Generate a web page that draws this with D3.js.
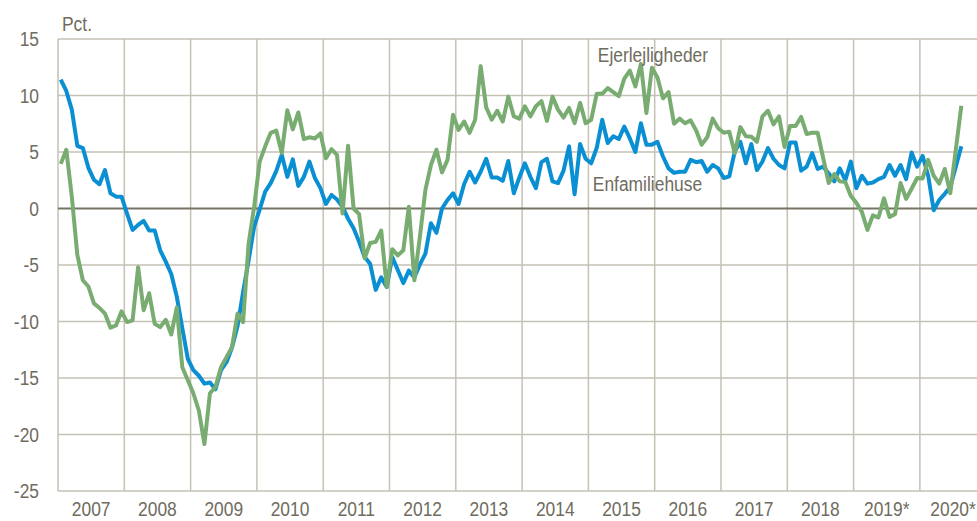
<!DOCTYPE html>
<html>
<head>
<meta charset="utf-8">
<script src="https://cdn.jsdelivr.net/npm/d3@7"></script>
<style>
  html, body { margin: 0; padding: 0; background: #ffffff; }
  svg { display: block; }
  text { font-family: "Liberation Sans Narrow", "Arial Narrow", "Liberation Sans", Arial, sans-serif; fill: #6f6c5e; }
</style>
</head>
<body>
<div id="chart"></div>
<script>
// Monthly price growth, pct. (Jan 2007 - Aug 2020)
var years = ["2007", "2008", "2009", "2010", "2011", "2012", "2013", "2014",
             "2015", "2016", "2017", "2018", "2019*", "2020*"];
var y_ticks = [15, 10, 5, 0, -5, -10, -15, -20, -25];

var enfamiliehuse = [
    11.4, 10.4, 8.75, 5.55, 5.35, 3.6, 2.55, 2.15, 3.4, 1.35, 1.05, 1.05,
    -0.45, -1.9, -1.45, -1.1, -1.95, -1.95, -3.7, -4.7, -5.8, -7.8, -10.6, -13.3,
    -14.3, -14.8, -15.5, -15.4, -16.0, -14.3, -13.6, -12.3, -10.4, -7.4, -4.6, -1.6,
    -0.1, 1.5, 2.25, 3.3, 4.75, 2.8, 4.35, 2.0, 2.8, 4.15, 2.7, 1.8,
    0.4, 1.2, 0.8, 0.15, -0.9, -1.75, -2.95, -4.3, -4.9, -7.2, -6.1, -6.95,
    -4.3, -5.45, -6.6, -5.5, -6.1, -4.95, -4.0, -1.3, -2.15, 0.0, 0.75, 1.35,
    0.4, 2.15, 3.25, 2.3, 3.25, 4.4, 2.75, 2.75, 2.45, 4.2, 1.35, 2.75,
    4.0, 2.8, 1.8, 4.1, 4.4, 2.4, 2.25, 3.35, 5.5, 1.25, 5.7, 4.4,
    4.0, 5.35, 7.85, 5.8, 6.4, 6.15, 7.25, 6.2, 5.0, 7.55, 5.65, 5.65,
    5.9, 4.6, 3.55, 3.15, 3.25, 3.25, 4.3, 4.1, 4.2, 3.25, 3.85, 3.55,
    2.7, 2.85, 5.05, 5.9, 4.0, 5.7, 3.4, 4.15, 5.35, 4.4, 3.85, 3.55,
    5.85, 5.85, 3.35, 3.7, 4.9, 3.5, 3.7, 3.1, 2.4, 3.55, 2.5, 4.15,
    1.8, 2.9, 2.2, 2.3, 2.6, 2.8, 3.85, 2.9, 3.85, 2.6, 4.95, 3.7,
    4.65, 2.9, -0.15, 0.75, 1.3, 1.9, 3.7, 5.5
];

var ejerlejligheder = [
    3.95, 5.2, 1.05, -4.1, -6.35, -6.9, -8.4, -8.8, -9.3, -10.55, -10.35, -9.1,
    -10.05, -9.9, -5.2, -9.0, -7.5, -10.2, -10.5, -9.85, -11.15, -8.75, -14.05, -15.2,
    -16.35, -17.9, -20.85, -16.35, -15.8, -14.05, -13.15, -12.25, -9.3, -10.05, -3.1, 0.15,
    4.15, 5.5, 6.7, 6.9, 4.9, 8.7, 7.0, 8.5, 6.15, 6.3, 6.2, 6.65,
    4.45, 5.25, 4.75, -0.45, 5.55, 0.0, -0.5, -4.4, -3.05, -2.95, -1.95, -6.95,
    -3.6, -4.15, -3.7, 0.15, -6.35, -2.5, 1.65, 3.85, 5.2, 3.2, 4.3, 8.3,
    6.95, 7.7, 6.7, 7.85, 12.6, 8.95, 7.85, 8.65, 7.7, 9.9, 8.15, 7.95,
    9.05, 8.15, 9.05, 9.5, 7.75, 9.9, 8.75, 8.05, 8.9, 7.55, 9.35, 7.55,
    7.85, 10.15, 10.15, 10.65, 10.3, 9.95, 11.5, 12.2, 10.8, 12.8, 8.45, 12.45,
    11.6, 9.75, 10.3, 7.5, 7.95, 7.55, 7.8, 6.9, 5.65, 6.3, 7.95, 7.1,
    6.7, 6.8, 4.9, 7.2, 6.4, 6.35, 5.9, 8.15, 8.65, 7.45, 8.15, 5.45,
    7.3, 7.3, 8.1, 6.6, 6.7, 6.7, 4.45, 2.25, 3.05, 2.4, 2.35, 1.1,
    0.5, -0.3, -1.9, -0.6, -0.8, 0.9, -0.75, -0.5, 2.25, 0.85, 1.75, 2.7,
    2.65, 4.3, 2.9, 2.2, 3.5, 1.35, 5.2, 9.1
];

var width = 977;
var height = 521;
var margin = { top: 39, right: 0, bottom: 30, left: 58 };
var year_width = 66.3;

var grid_color = "#c4c1b5";
var zero_color = "#777465";
var blue = "#0a8fd2";
var green = "#79ac70";

var svg = d3.select("#chart").append("svg")
    .attr("width", width)
    .attr("height", height);

// x in months from Jan 2007, points sit mid-month
var x = d3.scaleLinear()
    .domain([0, years.length * 12])
    .range([margin.left, margin.left + years.length * year_width]);

var y = d3.scaleLinear()
    .domain([-25, 15])
    .range([491, margin.top]);

var x_left = x(0);
var y_top = y(15);
var y_bottom = y(-25);

// Horizontal grid
svg.append("g").selectAll("line")
    .data(y_ticks.filter(function(d) { return d !== 0; }))
    .enter().append("line")
        .attr("x1", x_left)
        .attr("x2", width)
        .attr("y1", function(d) { return y(d); })
        .attr("y2", function(d) { return y(d); })
        .attr("stroke", grid_color)
        .attr("stroke-width", 1.5);

// Vertical grid at year boundaries
svg.append("g").selectAll("line")
    .data(d3.range(0, years.length + 1))
    .enter().append("line")
        .attr("x1", function(d) { return x(d * 12); })
        .attr("x2", function(d) { return x(d * 12); })
        .attr("y1", y_top)
        .attr("y2", y_bottom)
        .attr("stroke", grid_color)
        .attr("stroke-width", 1.5);

// Zero line
svg.append("line")
    .attr("x1", x_left)
    .attr("x2", width)
    .attr("y1", y(0))
    .attr("y2", y(0))
    .attr("stroke", zero_color)
    .attr("stroke-width", 1.8);

// Y tick labels
svg.append("g").selectAll("text")
    .data(y_ticks)
    .enter().append("text")
        .attr("x", 39)
        .attr("y", function(d) { return y(d); })
        .attr("dy", "0.36em")
        .attr("text-anchor", "end")
        .attr("font-size", 20)
        .text(function(d) { return d; });

// Year labels
svg.append("g").selectAll("text")
    .data(years)
    .enter().append("text")
        .attr("x", function(d, i) { return x(i * 12 + 6); })
        .attr("y", 516)
        .attr("text-anchor", "middle")
        .attr("font-size", 20)
        .text(function(d) { return d; });

svg.append("text")
    .attr("x", 62)
    .attr("y", 31)
    .attr("font-size", 20)
    .text("Pct.");

var line = d3.line()
    .x(function(d, i) { return x(i + 0.5); })
    .y(function(d) { return y(d); });

svg.append("path")
    .datum(enfamiliehuse)
    .attr("d", line)
    .attr("fill", "none")
    .attr("stroke", blue)
    .attr("stroke-width", 4)
    .attr("stroke-linejoin", "round");

svg.append("path")
    .datum(ejerlejligheder)
    .attr("d", line)
    .attr("fill", "none")
    .attr("stroke", green)
    .attr("stroke-width", 4)
    .attr("stroke-linejoin", "round");

// Series labels
svg.append("text")
    .attr("x", x(97.7))
    .attr("y", y(13.0))
    .attr("font-size", 20)
    .text("Ejerlejligheder");

svg.append("text")
    .attr("x", x(96.8))
    .attr("y", y(1.55))
    .attr("font-size", 20)
    .text("Enfamiliehuse");

// No narrow font here, so squeeze the glyphs a bit to match the original
svg.selectAll("text").each(function() {
    var len = this.getComputedTextLength();
    d3.select(this)
        .attr("textLength", len * 0.87)
        .attr("lengthAdjust", "spacingAndGlyphs");
});
</script>
</body>
</html>
